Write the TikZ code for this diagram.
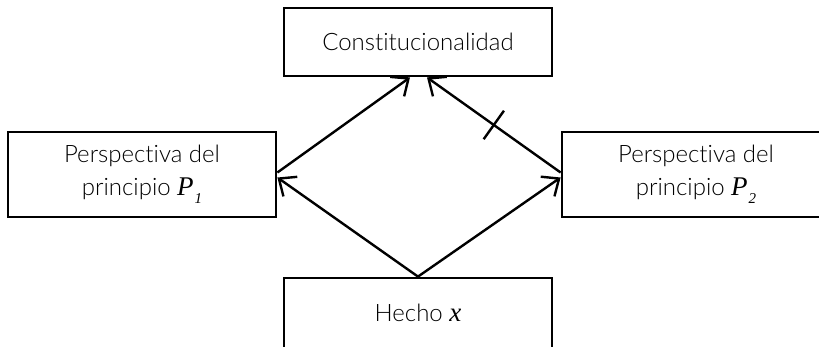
\documentclass[tikz,border=0pt]{standalone}
\usepackage{fontspec}
\setmainfont{Lato}[UprightFont=* Light, Ligatures=NoCommon]
\newfontfamily\serifit{Liberation Serif}
\usetikzlibrary{arrows.meta}
\newcommand{\pe}[1]{{\serifit\itshape\fontsize{27}{32}\selectfont P\kern1pt\raisebox{-0.3em}{\fontsize{15}{15}\selectfont #1}}}
\begin{document}
\begin{tikzpicture}[x=1pt,y=-1pt,
  box/.style={draw, line width=2.8pt, minimum width=268pt, inner sep=0pt, align=center, font=\fontsize{24}{33}\selectfont},
  arr/.style={line width=2.4pt, -{Straight Barb[length=14pt,width=24pt,line width=2.4pt]}}]
\useasboundingbox (0,0) rectangle (819,346);
\node[box, minimum height=68pt] (top) at (418,42) {Constitucionalidad};
\node[box, minimum height=85pt] (left) at (142,174.5) {Perspectiva del\\principio \pe{1}};
\node[box, minimum height=85pt] (right) at (696,174.5) {Perspectiva del\\principio \pe{2}};
\node[box, minimum height=70pt] (bot) at (418,313) {Hecho {\serifit\itshape\fontsize{27}{32}\selectfont x}};
\draw[arr] (bot.north) -- ([yshift=-3pt]left.east);
\draw[arr] (bot.north) -- ([yshift=-3pt]right.west);
\draw[arr] ([yshift=2pt]left.east) -- ([xshift=-8pt]top.south);
\draw[arr] ([yshift=2pt]right.west) -- node[sloped, inner sep=0pt]{\rule{2.4pt}{35pt}} ([xshift=9pt]top.south);
\end{tikzpicture}
\end{document}
